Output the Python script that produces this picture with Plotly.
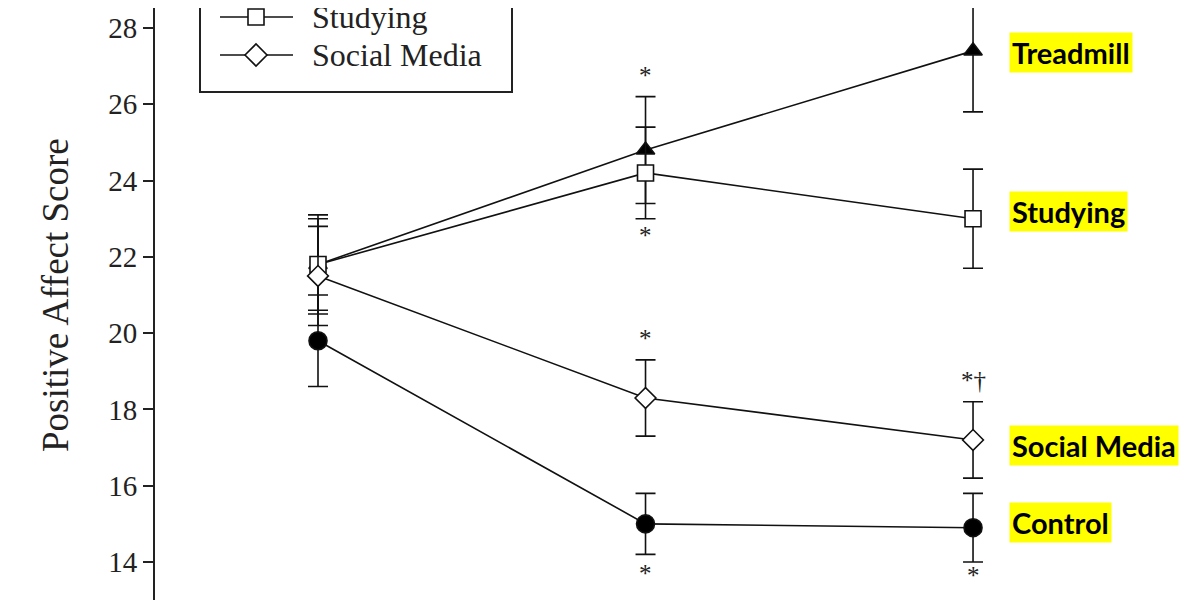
import plotly.graph_objects as go

# ---- data ----
timepoints = [0, 1, 2]
control = [19.8, 15.0, 14.9]
control_err = [1.2, 0.8, 0.9]
treadmill = [21.8, 24.8, 27.4]
treadmill_err = [1.2, 1.4, 1.6]
studying = [21.8, 24.2, 23.0]
studying_err = [1.3, 1.2, 1.3]
social = [21.5, 18.3, 17.2]
social_err = [1.3, 1.0, 1.0]

y_ticks = [14, 16, 18, 20, 22, 24, 26, 28]

# significance markers: (x, y, text)
sig_marks = [
    (1, 26.75, "*"),
    (1, 22.55, "*"),
    (1, 19.85, "*"),
    (1, 13.7, "*"),
    (2, 18.75, "*\u2020"),
    (2, 13.65, "*"),
]

group_labels = [
    ("Treadmill", 27.37),
    ("Studying", 23.18),
    ("Social Media", 17.06),
    ("Control", 15.04),
]

# page has an 8px body margin; the figure is sized to fill the rest
OFF = 8
W, H = 1200 - OFF, 600 - OFF
L_PAGE = 155
L = L_PAGE - OFF
X_RANGE = [-0.4977, 2.693]
Y_RANGE = [13.004, 28.524]

def px_x(px):
    return (px - L_PAGE) / (1200 - L_PAGE)

def px_y(py):
    return 1 - (py - OFF) / H

fig = go.Figure()

line_style = dict(color="#111", width=1.6)
err_style = dict(type="data", visible=True, color="#111", thickness=1.6, width=10)

def add_series(name, ys, errs, symbol, fill):
    fig.add_trace(go.Scatter(
        x=timepoints, y=ys, name=name, mode="lines+markers",
        line=line_style,
        error_y=dict(array=errs, **err_style),
        marker=dict(symbol=symbol, size=16 if symbol != "circle" else 18,
                    color=fill, line=dict(color="#111", width=1.6)),
        cliponaxis=False, showlegend=False,
    ))

add_series("Control", control, control_err, "circle", "#000")
add_series("Treadmill", treadmill, treadmill_err, "triangle-up", "#000")
add_series("Studying", studying, studying_err, "square", "#fff")
add_series("Social Media", social, social_err, "diamond", "#fff")

for x, y, t in sig_marks:
    fig.add_annotation(x=x, y=y, text=t, showarrow=False,
                       font=dict(family="Liberation Serif", size=25, color="#222"))

for name, y in group_labels:
    fig.add_annotation(x=2.11, y=y, text="<b>" + name + "</b>", showarrow=False,
                       xanchor="left", yanchor="middle", bgcolor="#FFFF00",
                       borderpad=2,
                       font=dict(family="Lato", size=29, color="#000"))

# axis title
fig.add_annotation(xref="paper", yref="paper", x=px_x(55), y=px_y(295),
                   text="Positive Affect Score", textangle=-90, showarrow=False,
                   xanchor="center", yanchor="middle",
                   font=dict(family="Liberation Serif", size=37, color="#222"))

# manual legend (top is cropped in the reference)
shapes = [dict(type="rect", xref="paper", yref="paper",
               x0=px_x(200), x1=px_x(512), y0=px_y(92), y1=px_y(-60),
               line=dict(color="#222", width=2), fillcolor="rgba(255,255,255,0)")]
legend_entries = [("Studying", 17, "square"), ("Social Media", 55, "diamond")]
for name, py, sym in legend_entries:
    shapes.append(dict(type="line", xref="paper", yref="paper",
                       x0=px_x(220), x1=px_x(293), y0=px_y(py), y1=px_y(py),
                       line=dict(color="#111", width=1.6)))
    cx = 256
    if sym == "square":
        shapes.append(dict(type="rect", xref="paper", yref="paper",
                           x0=px_x(cx - 8), x1=px_x(cx + 8), y0=px_y(py + 8), y1=px_y(py - 8),
                           line=dict(color="#111", width=1.6), fillcolor="#fff"))
    else:
        path = "M {} {} L {} {} L {} {} L {} {} Z".format(
            px_x(cx - 11), px_y(py), px_x(cx), px_y(py - 11),
            px_x(cx + 11), px_y(py), px_x(cx), px_y(py + 11))
        shapes.append(dict(type="path", xref="paper", yref="paper", path=path,
                           line=dict(color="#111", width=1.6), fillcolor="#fff"))
    fig.add_annotation(xref="paper", yref="paper", x=px_x(310), y=px_y(py),
                       text=name, showarrow=False, xanchor="left", yanchor="middle",
                       font=dict(family="Liberation Serif", size=32, color="#222"))

fig.update_layout(
    width=W, height=H,
    margin=dict(l=L, r=0, t=0, b=0, pad=0),
    plot_bgcolor="#fff", paper_bgcolor="#fff",
    shapes=shapes,
    xaxis=dict(range=X_RANGE, visible=False, showgrid=False, zeroline=False),
    yaxis=dict(range=Y_RANGE, tickvals=y_ticks, ticks="outside", ticklen=10,
               tickwidth=1.6, tickcolor="#222", showline=True, linecolor="#222",
               linewidth=2, showgrid=False, zeroline=False,
               tickfont=dict(family="Liberation Serif", size=29, color="#222")),
)

fig.write_html("out.html")
